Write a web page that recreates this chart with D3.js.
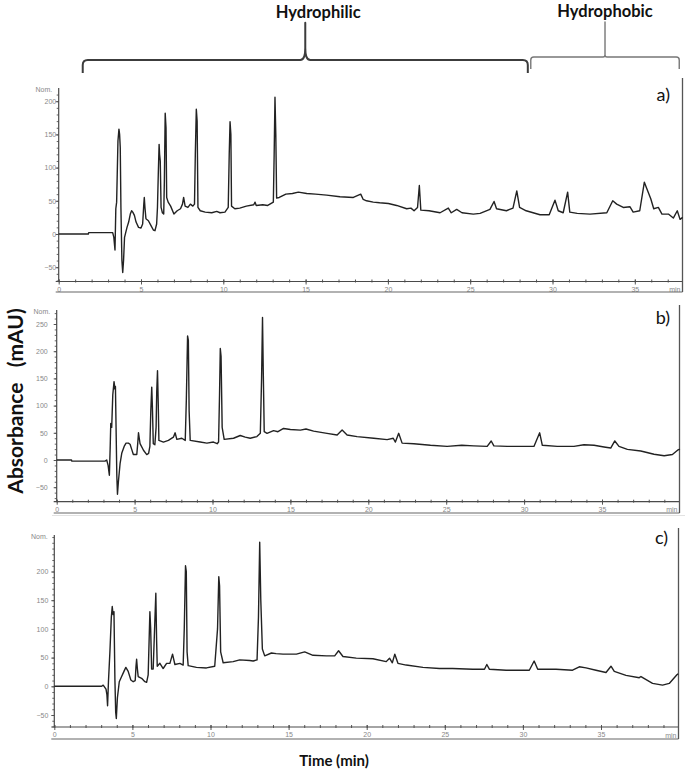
<!DOCTYPE html>
<html><head><meta charset="utf-8">
<script src="https://cdn.jsdelivr.net/npm/d3@7"></script>
<style>body{margin:0;background:#fff} svg{display:block}</style>
</head><body><svg id="chart" width="685" height="773"></svg>
<script>
// ---------- data ----------
const xTickValues = [0,5,10,15,20,25,30,35];
const yTicksA = [-50,0,50,100,150,200];
const yTicksB = [-50,0,50,100,150,200,250];
const yTicksC = [-50,0,50,100,150,200];
const panelLabels = ["a)","b)","c)"];
const regionNames = ["Hydrophilic","Hydrophobic"];
const regionStart = [1.46, 28.68];
const regionEnd = [28.5, 37.7];

const traceA = [[0,0],[1.8,0],[1.82,2],[3.28,2],[3.35,-5],[3.42,-24],[3.47,38],[3.52,48],[3.6,140],[3.66,158],[3.7,150],[3.74,130],[3.78,40],[3.84,-40],[3.89,-58],[3.94,-40],[4.0,-5],[4.07,2],[4.15,10],[4.25,18],[4.35,30],[4.43,35],[4.5,33],[4.6,28],[4.7,18],[4.85,10],[5.0,9],[5.1,15],[5.17,45],[5.2,55],[5.24,40],[5.3,23],[5.45,20],[5.6,13],[5.75,6],[5.85,5],[5.95,15],[6.0,40],[6.05,90],[6.1,135],[6.13,120],[6.17,110],[6.22,40],[6.3,32],[6.38,30],[6.42,80],[6.47,182],[6.52,160],[6.56,55],[6.65,48],[6.8,42],[7.0,30],[7.2,35],[7.4,38],[7.52,45],[7.59,55],[7.68,42],[7.85,40],[8.0,45],[8.15,42],[8.25,45],[8.3,120],[8.36,188],[8.41,170],[8.46,40],[8.6,35],[8.9,33],[9.3,32],[9.6,34],[9.8,32],[10.1,33],[10.3,40],[10.36,120],[10.41,169],[10.46,150],[10.5,42],[10.7,38],[11.0,39],[11.4,42],[11.85,44],[11.93,48],[12.0,43],[12.4,44],[12.7,43],[13.04,48],[13.09,120],[13.14,206],[13.19,150],[13.24,54],[13.4,55],[13.8,60],[14.2,61],[14.56,63],[15.07,61],[15.6,60],[16.28,58.6],[17.09,56],[17.9,55],[18.35,60],[18.5,52],[18.7,50],[19.11,48],[19.5,47],[20.03,46],[20.53,43],[21.14,38],[21.4,39],[21.59,35],[21.8,40],[21.91,73],[22.0,36],[22.5,35],[23.17,32],[23.67,39],[23.85,32],[24.18,37],[24.5,32],[25.19,30],[25.6,31],[26.2,37],[26.45,49],[26.6,38],[27.2,35],[27.6,39],[27.83,65],[28.0,40],[28.4,35],[29.24,29],[29.8,29],[30.15,51],[30.35,35],[30.65,32],[30.92,63],[31.05,33],[31.5,31],[32.28,30],[33.3,32],[33.66,50],[33.9,45],[34.3,40],[34.71,41],[34.9,33],[35.3,35],[35.58,78],[35.72,69],[35.97,53],[36.15,38],[36.43,40],[36.65,30],[37.04,30],[37.34,24],[37.58,35],[37.75,22],[37.91,25]];

const traceB = [[0,0],[0.95,0],[0.97,-2],[3.1,-2],[3.21,0],[3.3,-10],[3.38,-28],[3.43,20],[3.47,67],[3.53,60],[3.6,120],[3.68,144],[3.74,130],[3.77,135],[3.81,60],[3.86,-30],[3.9,-63],[3.96,-40],[4.07,-6],[4.18,13],[4.33,25],[4.45,31],[4.6,31],[4.71,29],[4.82,19],[4.92,10],[5.14,10],[5.2,30],[5.25,50],[5.3,40],[5.35,30],[5.57,18],[5.78,10],[5.9,12],[5.98,25],[6.04,90],[6.1,134],[6.14,100],[6.2,30],[6.3,28],[6.38,60],[6.42,125],[6.47,164],[6.52,100],[6.56,36],[6.85,33],[7.17,36],[7.49,42],[7.6,50],[7.71,38],[8.03,40],[8.25,36],[8.32,110],[8.4,228],[8.45,220],[8.5,90],[8.57,36],[9.21,33],[9.64,31],[10.06,33],[10.3,30],[10.39,33],[10.45,118],[10.5,205],[10.55,190],[10.62,60],[10.75,38],[11.35,40],[11.78,45],[12.1,42],[12.42,40],[12.85,43],[13.07,49],[13.15,150],[13.21,262],[13.26,160],[13.32,52],[13.5,49],[13.92,54],[14.2,52],[14.56,58],[15.0,56],[15.64,55],[16.0,57],[16.49,53],[17.35,49],[18.0,46],[18.32,55],[18.64,46],[19.28,43],[20.35,40],[21.21,37.5],[21.6,40],[21.74,33],[21.95,49],[22.17,31],[22.92,30],[23.99,27],[25.06,25],[26.0,27],[26.77,26],[27.63,25],[27.89,35],[28.06,26],[28.92,25],[30.63,25],[31.0,50],[31.17,27],[32.13,25],[33.2,25],[33.84,28],[34.49,27],[35.13,24],[35.56,22],[35.82,35],[36.09,25],[36.63,19.6],[37.49,16.5],[38.34,10.6],[38.99,7.7],[39.52,10],[39.85,18],[40.0,20]];

const traceC = [[0,0],[3.03,0],[3.13,2],[3.31,-5],[3.37,-15],[3.41,-34],[3.47,10],[3.56,60],[3.65,120],[3.71,139],[3.76,125],[3.82,130],[3.88,12],[3.93,-45],[3.97,-56],[4.04,-20],[4.16,8],[4.31,17],[4.46,26],[4.58,33],[4.73,26],[4.9,11],[5.05,8],[5.18,10],[5.23,35],[5.27,47],[5.32,30],[5.37,17],[5.59,14],[5.8,8],[5.91,7],[6.01,20],[6.07,80],[6.12,130],[6.17,100],[6.23,30],[6.33,30],[6.42,100],[6.5,162],[6.55,80],[6.59,35],[6.76,40],[6.97,31],[7.19,40],[7.4,40],[7.57,56],[7.72,38],[8.04,40],[8.25,37],[8.32,100],[8.4,210],[8.45,200],[8.5,60],[8.57,36],[9.1,33],[9.74,32],[10.27,35],[10.45,100],[10.53,191],[10.58,175],[10.65,60],[10.81,41],[11.45,43],[11.87,46],[12.51,45],[12.73,44],[12.98,46],[13.07,120],[13.15,251],[13.22,150],[13.32,65],[13.47,53],[13.9,58],[14.2,57],[14.64,56],[15.5,56],[16.03,60],[16.56,54],[17.42,53],[17.95,53],[18.2,62],[18.48,52],[19.33,49],[20.4,48],[21.25,43],[21.46,49],[21.64,41],[21.8,56],[22.0,40],[22.53,37],[23.6,33],[24.66,31],[25.5,31],[26.79,29.6],[27.54,29.6],[27.69,38],[27.86,29.6],[28.93,28],[30.41,28],[30.72,44],[30.95,29.6],[32.12,29.6],[33.18,28],[33.61,34],[34.04,32],[34.68,28],[35.32,24],[35.64,35],[35.85,26],[36.6,19],[37.45,15],[37.56,17],[38.3,5],[38.94,2],[39.37,5],[39.86,20],[39.94,22]];

// ---------- layout ----------
const panels = [
  {trace:traceA, yTicks:yTicksA, label:panelLabels[0], xr:[58.7,634.8], right:682.5, yr:[234,101.2], top:88, rightTop:78, bottom:281.5, base:292, labGap:2.5, labX:670, labY:101},
  {trace:traceB, yTicks:yTicksB, label:panelLabels[1], xr:[56.7,602], right:679.5, yr:[460,351.2], top:310, rightTop:305, bottom:501.7, base:513, labGap:9, labX:670, labY:324},
  {trace:traceC, yTicks:yTicksC, label:panelLabels[2], xr:[54.3,601], right:678.5, yr:[686.3,571.5], top:535, rightTop:528, bottom:727, base:739, labGap:6, labX:668, labY:544}
];

const svg = d3.select("#chart");
const FONT = "Lato, 'Open Sans', sans-serif";
const SMALL = "'Liberation Sans', Arial, sans-serif";

// faint separation line above panel c
svg.append("line").attr("x1",52).attr("x2",685).attr("y1",515.5).attr("y2",515.5)
  .attr("stroke","#e2e2e2").attr("stroke-width",1);

let xa;
panels.forEach((p,i) => {
  const x = d3.scaleLinear().domain([0,35]).range(p.xr);
  const y = d3.scaleLinear().domain([0,200]).range(p.yr);
  if (i===0) xa = x;
  const tMax = x.invert(p.right);
  const vMin = y.invert(p.bottom), vMax = y.invert(p.top);
  const g = svg.append("g");
  const ax = p.xr[0];

  // x axis (minor ticks each minute, labels every 5)
  const xMinor = d3.axisBottom(x).tickValues(d3.range(0, Math.floor(tMax)+1, 1))
     .tickSize(2).tickFormat("");
  g.append("g").attr("transform",`translate(0,${p.bottom})`).call(xMinor)
     .call(s=>s.select(".domain").remove())
     .call(s=>s.selectAll("line").attr("stroke","#555").attr("y1",-2).attr("y2",1));
  const xMajor = d3.axisBottom(x).tickValues(xTickValues).tickSize(3).tickPadding(2.5)
     .tickFormat(d3.format("d"));
  g.append("g").attr("transform",`translate(0,${p.bottom})`).call(xMajor)
     .call(s=>s.select(".domain").remove())
     .call(s=>s.selectAll("line").attr("stroke","#555").attr("y1",-2))
     .call(s=>s.selectAll("text").attr("fill","#888").attr("font-size",7).attr("font-family",SMALL));
  g.append("text").attr("x",p.right-2).attr("y",p.bottom+10.5).attr("text-anchor","end")
     .attr("fill","#888").attr("font-size",7).attr("font-family",SMALL).text("min");

  // y axis
  const yMinor = d3.axisLeft(y).tickValues(d3.range(Math.ceil(vMin/10)*10, vMax, 10))
     .tickSize(2).tickFormat("");
  g.append("g").attr("transform",`translate(${ax},0)`).call(yMinor)
     .call(s=>s.select(".domain").remove())
     .call(s=>s.selectAll("line").attr("stroke","#666"));
  const yMajor = d3.axisLeft(y).tickValues(p.yTicks).tickSize(3).tickPadding(p.labGap-3)
     .tickFormat(d3.format("d"));
  g.append("g").attr("transform",`translate(${ax},0)`).call(yMajor)
     .call(s=>s.select(".domain").remove())
     .call(s=>s.selectAll("line").attr("stroke","#555"))
     .call(s=>s.selectAll("text").attr("fill","#888").attr("font-size",7).attr("font-family",SMALL));
  g.append("text").attr("x",ax-6.5).attr("y",y(vMax)+3.5).attr("text-anchor","end")
     .attr("fill","#888").attr("font-size",7).attr("font-family",SMALL).text("Nom.");

  // frame lines
  const stroke = "#4a4a4a";
  g.append("line").attr("x1",ax).attr("x2",ax).attr("y1",p.top).attr("y2",p.bottom).attr("stroke",stroke).attr("stroke-width",1.2);
  g.append("line").attr("x1",ax-3).attr("x2",p.right).attr("y1",p.bottom).attr("y2",p.bottom).attr("stroke",stroke).attr("stroke-width",1.2);
  g.append("line").attr("x1",ax-3).attr("x2",p.right).attr("y1",p.base).attr("y2",p.base).attr("stroke","#666").attr("stroke-width",1.2);
  g.append("line").attr("x1",p.right).attr("x2",p.right).attr("y1",p.rightTop).attr("y2",p.base).attr("stroke","#555").attr("stroke-width",1.3);

  // trace
  const line = d3.line().x(d=>x(d[0])).y(d=>y(d[1]));
  g.append("path").datum(p.trace).attr("d",line).attr("fill","none")
     .attr("stroke","#222").attr("stroke-width",1.4).attr("stroke-linejoin","round");

  // panel label
  g.append("text").attr("x",p.labX).attr("y",p.labY).attr("text-anchor","end")
     .attr("font-size",18).attr("font-family",FONT).attr("fill","#111").text(p.label);
});

// region braces above panel a
regionNames.forEach((name,i) => {
  const L = xa(regionStart[i]), R = xa(regionEnd[i]), M = (L+R)/2;
  let d, col, w, tx, ty, fs;
  if (i===0) {
    const ly = 60, ey = 73, py = 22.7;
    d = `M${L},${ey} L${L},${ly+5} Q${L},${ly} ${L+5},${ly} L${M-5},${ly} Q${M},${ly} ${M},${ly-12} L${M},${py} L${M},${ly-12} Q${M},${ly} ${M+5},${ly} L${R-5},${ly} Q${R},${ly} ${R},${ly+5} L${R},${ey}`;
    col = "#3c3c3c"; w = 2; tx = M+13; ty = 18; fs = 16.5;
  } else {
    const ly = 57, ey = 69, py = 22;
    d = `M${L},${ey} L${L},${ly+3} Q${L},${ly} ${L+3},${ly} L${M-2},${ly} Q${M},${ly} ${M},${ly-2} L${M},${py} L${M},${ly-2} Q${M},${ly} ${M+2},${ly} L${R-3},${ly} Q${R},${ly} ${R},${ly+3} L${R},${ey}`;
    col = "#777"; w = 1.4; tx = M; ty = 16.5; fs = 16.5;
  }
  svg.append("path").attr("d",d).attr("fill","none").attr("stroke",col).attr("stroke-width",w)
     .attr("stroke-linejoin","round");
  svg.append("text").attr("x",tx).attr("y",ty).attr("text-anchor","middle")
     .attr("font-family",FONT).attr("font-weight","bold").attr("font-size",fs).attr("fill","#111").text(name);
});

// axis titles
svg.append("text").attr("transform","translate(23,401) rotate(-90)").attr("text-anchor","middle")
  .attr("font-family",FONT).attr("font-weight","bold").attr("font-size",21).attr("fill","#111")
  .text("Absorbance\u00a0\u00a0\u00a0(mAU)");
svg.append("text").attr("x",334).attr("y",766).attr("text-anchor","middle")
  .attr("font-family",FONT).attr("font-weight","bold").attr("font-size",15).attr("fill","#111")
  .text("Time (min)");
</script></body></html>
